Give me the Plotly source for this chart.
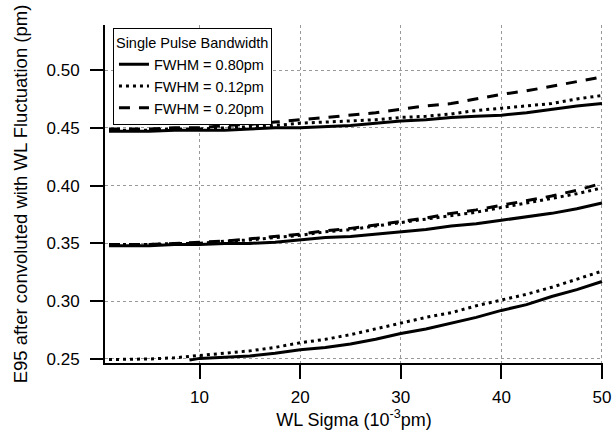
import plotly.graph_objects as go

x = [1, 2.5, 5, 7.5, 10, 12.5, 15, 17.5, 20, 22.5, 25, 27.5, 30, 32.5, 35, 37.5, 40, 42.5, 45, 47.5, 50]

g1_solid = [0.447, 0.447, 0.447, 0.448, 0.448, 0.448, 0.449, 0.450, 0.450, 0.451, 0.452, 0.454, 0.456, 0.457, 0.459, 0.460, 0.461, 0.463, 0.466, 0.469, 0.471]
g1_dotted = [0.448, 0.448, 0.448, 0.449, 0.449, 0.450, 0.451, 0.452, 0.454, 0.455, 0.456, 0.457, 0.459, 0.460, 0.462, 0.465, 0.467, 0.469, 0.471, 0.475, 0.478]
g1_dashed = [0.449, 0.449, 0.449, 0.450, 0.450, 0.452, 0.453, 0.455, 0.457, 0.459, 0.461, 0.463, 0.466, 0.469, 0.471, 0.475, 0.479, 0.482, 0.486, 0.490, 0.494]

g2_solid = [0.348, 0.348, 0.348, 0.349, 0.349, 0.350, 0.350, 0.351, 0.353, 0.355, 0.356, 0.358, 0.360, 0.362, 0.365, 0.367, 0.370, 0.373, 0.376, 0.380, 0.385]
g2_dotted = [0.349, 0.349, 0.349, 0.350, 0.350, 0.352, 0.353, 0.355, 0.357, 0.360, 0.362, 0.365, 0.368, 0.371, 0.374, 0.377, 0.381, 0.385, 0.389, 0.393, 0.398]
g2_dashed = [0.349, 0.349, 0.349, 0.350, 0.351, 0.352, 0.354, 0.356, 0.358, 0.361, 0.363, 0.366, 0.369, 0.372, 0.376, 0.379, 0.383, 0.387, 0.391, 0.396, 0.402]

g3_dotted = [0.2495, 0.2495, 0.250, 0.251, 0.253, 0.255, 0.257, 0.260, 0.264, 0.267, 0.271, 0.276, 0.281, 0.286, 0.290, 0.296, 0.301, 0.306, 0.312, 0.319, 0.326]
g3_solid_x = [9, 10, 12.5, 15, 17.5, 20, 22.5, 25, 27.5, 30, 32.5, 35, 37.5, 40, 42.5, 45, 47.5, 50]
g3_solid = [0.249, 0.2505, 0.2515, 0.2525, 0.255, 0.258, 0.260, 0.263, 0.267, 0.272, 0.276, 0.281, 0.286, 0.292, 0.297, 0.304, 0.310, 0.317]

legend_names = ["FWHM = 0.80pm", "FWHM = 0.12pm", "FWHM = 0.20pm"]
x_ticks = [10, 20, 30, 40, 50]
y_ticks = [0.25, 0.30, 0.35, 0.40, 0.45, 0.50]

SOLID = "solid"
DOT = "3px,4px"
DASH = "11px,9px"
FONT = "Liberation Sans, Arial, sans-serif"

fig = go.Figure()

def add(xs, ys, dash, name=None, show=False):
    fig.add_trace(go.Scatter(
        x=xs, y=ys, mode="lines", name=name, showlegend=show,
        line=dict(color="black", width=3, dash=dash),
        connectgaps=False,
    ))

add(x, g1_solid, SOLID, legend_names[0], True)
add(x, g1_dotted, DOT, legend_names[1], True)
add(x, g1_dashed, DASH, legend_names[2], True)
add(x, g2_solid, SOLID)
add(x, g2_dotted, DOT)
add(x, g2_dashed, DASH)
add(g3_solid_x, g3_solid, SOLID)
add(x, g3_dotted, DOT)

fig.update_layout(
    width=614, height=431,
    margin=dict(l=105, r=11, t=25, b=68),
    paper_bgcolor="white", plot_bgcolor="white",
    font=dict(family=FONT, size=16, color="black"),
    showlegend=True,
    legend=dict(
        x=0.016, y=0.99, xanchor="left", yanchor="top",
        bgcolor="white", bordercolor="black", borderwidth=1,
        font=dict(size=14.5), tracegroupgap=0,
        title=dict(text="Single Pulse Bandwidth", font=dict(size=14.5)),
        itemwidth=30,
    ),
    xaxis=dict(
        range=[0.6, 50.1], tickvals=x_ticks, ticks="outside", ticklen=14, tickwidth=2,
        tickcolor="black", showline=True, linecolor="black", linewidth=2,
        showgrid=True, gridcolor="#999999", griddash="dot", gridwidth=1,
        zeroline=False, automargin=False, ticklabelstandoff=4,
        title=dict(text="WL Sigma (10<sup>-3</sup>pm)", standoff=0, font=dict(size=18)),
        tickfont=dict(size=17),
    ),
    yaxis=dict(
        range=[0.2465, 0.539], tickvals=y_ticks, tickformat=".2f", ticks="outside", ticklen=13,
        tickwidth=2, tickcolor="black", showline=True, linecolor="black", linewidth=2,
        showgrid=True, gridcolor="#999999", griddash="dot", gridwidth=1,
        zeroline=False, automargin=False, ticklabelstandoff=7,
        title=dict(text="E95 after convoluted with WL Fluctuation (pm)", standoff=14, font=dict(size=18.5)),
        tickfont=dict(size=17),
    ),
)

fig.write_html("out.html")
